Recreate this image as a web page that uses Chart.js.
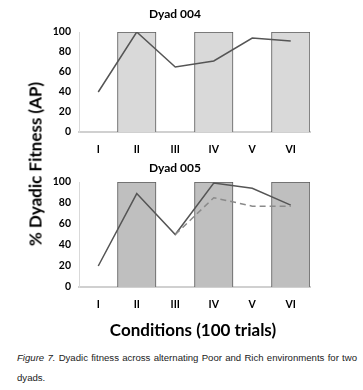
<!DOCTYPE html>
<html>
<head>
<meta charset="utf-8">
<script src="https://cdn.jsdelivr.net/npm/chart.js@4.4.1/dist/chart.umd.min.js"></script>
<style>
    body { margin: 0; background: #fff; width: 363px; height: 390px; position: relative; overflow: hidden; font-family: Lato, sans-serif; }
    canvas { position: absolute; left: 40px; }
    #c1 { top: 0px; }
    #c2 { top: 150px; }
    #ytitle { position: absolute; left: 35px; top: 164px; transform: translate(-50%, -50%) rotate(-90deg); white-space: nowrap; font: bold 17px Lato, sans-serif; color: #000; }
    #xtitle { position: absolute; left: 193px; top: 329px; transform: translate(-50%, -50%); white-space: nowrap; font: bold 17px Lato, sans-serif; color: #000; }
    #caption { position: absolute; left: 17px; top: 348px; width: 340px; font: 9.6px "Liberation Sans Narrow", "Liberation Sans", sans-serif; line-height: 20px; text-align: justify; text-align-last: left; color: #222; }
</style>
</head>
<body>
<canvas id="c1" width="280" height="160"></canvas>
<canvas id="c2" width="280" height="165"></canvas>
<div id="ytitle">% Dyadic Fitness (AP)</div>
<div id="xtitle">Conditions (100 trials)</div>
<div id="caption"><i>Figure 7.</i> Dyadic fitness across alternating Poor and Rich environments for two dyads.</div>
<script>
const conditions = ["I", "II", "III", "IV", "V", "VI"];
const richBars = [null, 100, null, 100, null, 100];
const dyad004 = [40, 100, 65, 71, 94, 91];
const dyad005 = [20, 89, 50, 99, 94, 78];
const dyad005Dashed = [null, null, 50, 85, 77, 77];

function buildDyadChart(id, title, barColor, lines, titleTop) {
    const datasets = lines.map(l => ({
        type: "line",
        data: l.data,
        borderColor: l.color,
        borderWidth: 1.5,
        borderDash: l.dash || [],
        pointRadius: 0,
        tension: 0,
        order: 0
    }));
    datasets.push({
        type: "bar",
        data: richBars,
        backgroundColor: barColor,
        borderColor: "#5a5a5a",
        borderWidth: 1,
        barPercentage: 1,
        categoryPercentage: 1,
        order: 1
    });

    new Chart(document.getElementById(id), {
        data: { labels: conditions, datasets: datasets },
        options: {
            responsive: false,
            animation: false,
            devicePixelRatio: 1,
            layout: { padding: { right: 10 } },
            plugins: {
                legend: { display: false },
                tooltip: { enabled: false },
                title: {
                    display: true,
                    text: title,
                    color: "#000",
                    font: { family: "Lato", weight: "bold", size: 12 },
                    padding: { top: titleTop, bottom: 32 - titleTop - 14.4 }
                }
            },
            scales: {
                x: {
                    grid: { display: false, drawTicks: false },
                    border: { display: true, color: "#d0d0d0", width: 2 },
                    ticks: { color: "#000", padding: 11, font: { family: "Lato", weight: "bold", size: 10.5 } },
                    afterFit: scale => { scale.height = 28; }
                },
                y: {
                    min: 0,
                    max: 100,
                    grid: { display: false, drawTicks: false },
                    border: { display: true, color: "#d9d9d9", width: 1 },
                    ticks: { stepSize: 20, color: "#000", padding: 8, font: { family: "Lato", weight: "bold", size: 10.5 } },
                    afterFit: scale => { scale.width = 39; }
                }
            }
        }
    });
}

buildDyadChart("c1", "Dyad 004", "#d9d9d9", [
    { data: dyad004, color: "#555555" }
], 7);

buildDyadChart("c2", "Dyad 005", "#bfbfbf", [
    { data: dyad005Dashed, color: "#8a8a8a", dash: [6, 4] },
    { data: dyad005, color: "#555555" }
], 11);
</script>
</body>
</html>
